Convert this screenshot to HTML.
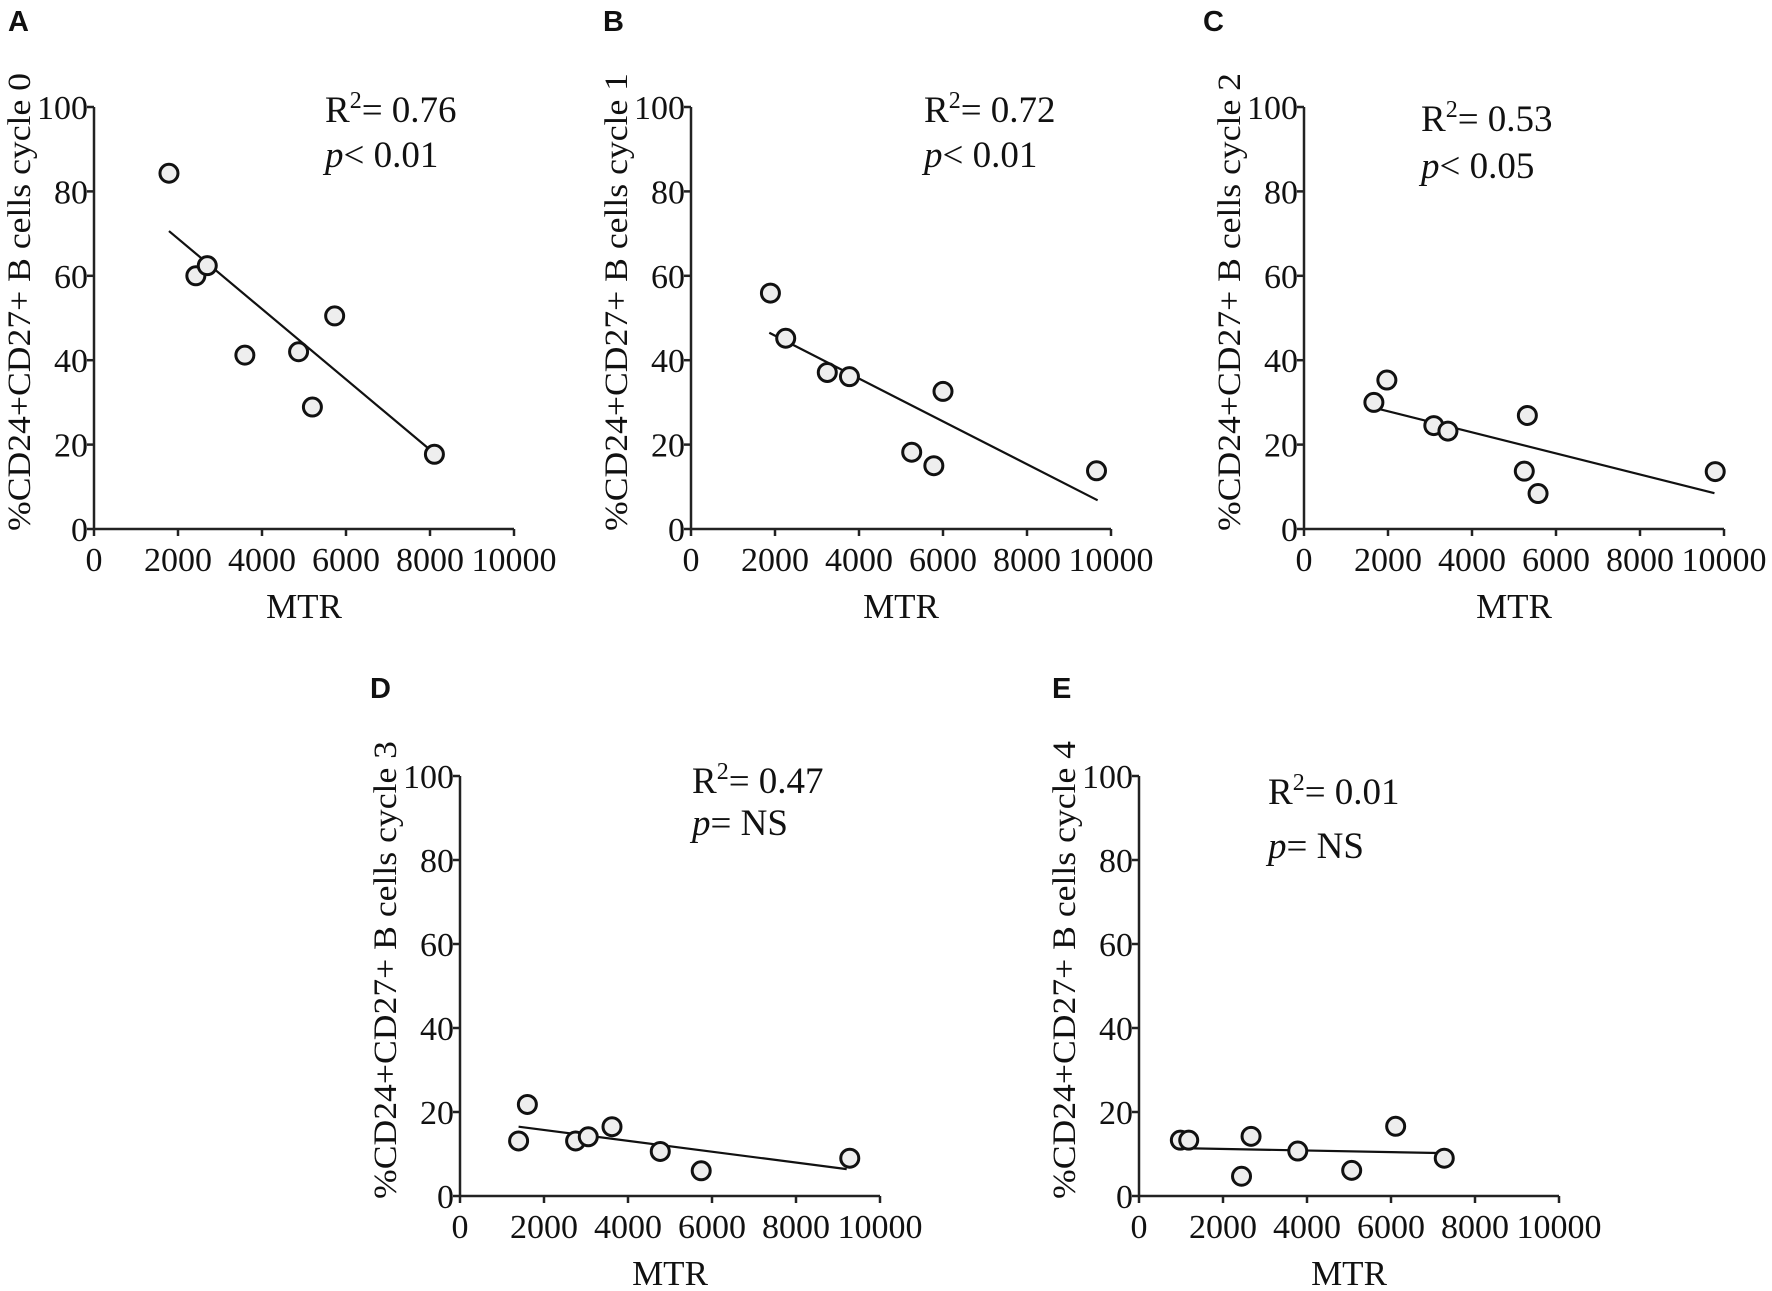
<!DOCTYPE html>
<html><head><meta charset="utf-8"><style>
html,body{margin:0;padding:0;background:#fff;}
svg{display:block;}
text{font-family:"Liberation Serif",serif;fill:#111;}
.lbl{font-family:"Liberation Sans",sans-serif;font-weight:bold;font-size:29px;}
</style></head><body>
<svg id="fig" width="1772" height="1291" viewBox="0 0 1772 1291" xmlns="http://www.w3.org/2000/svg"></svg>
<script>
const xTicks = [0, 2000, 4000, 6000, 8000, 10000];
const yTicks = [0, 20, 40, 60, 80, 100];

const aX = [1785, 2425, 2697, 3592, 4871, 5730, 5200, 8105];
const aY = [84.3, 60.0, 62.4, 41.2, 42.0, 50.5, 28.9, 17.7];
const aFitX = [1785, 7986];
const aFitY = [70.6, 18.9];

const bX = [1891, 2255, 3245, 3773, 6000, 5255, 5782, 9655];
const bY = [55.9, 45.2, 37.1, 36.1, 32.6, 18.2, 15.0, 13.8];
const bFitX = [1864, 9682];
const bFitY = [46.5, 6.8];

const cX = [1664, 1973, 3091, 3427, 5318, 5245, 5573, 9791];
const cY = [30.0, 35.3, 24.5, 23.2, 26.9, 13.7, 8.4, 13.6];
const cFitX = [1636, 9773];
const cFitY = [28.8, 8.5];

const dX = [1395, 1604, 2753, 3054, 3619, 4768, 5743, 9280];
const dY = [13.1, 21.8, 13.1, 14.1, 16.5, 10.6, 6.0, 9.0];
const dFitX = [1395, 9207];
const dFitY = [16.5, 6.4];

const eX = [984, 1184, 2668, 2441, 3780, 5064, 6111, 7268];
const eY = [13.3, 13.3, 14.2, 4.7, 10.7, 6.1, 16.6, 9.0];
const eFitX = [984, 7268];
const eFitY = [11.4, 10.2];

const NS = "http://www.w3.org/2000/svg";
const svg = document.getElementById('fig');
function mk(tag, attrs, parent) {
  const el = document.createElementNS(NS, tag);
  for (const k in attrs) el.setAttribute(k, attrs[k]);
  (parent || svg).appendChild(el);
  return el;
}

const panels = [
  {id:'a', L:'A', lx:8, ly:31, x0:94, top:107, bot:529, xs:aX, ys:aY, fx:aFitX, fy:aFitY, cyc:'0', r2:'0.76', p:'< 0.01', ax:231, ay1:15, ay2:60},
  {id:'b', L:'B', lx:603, ly:31, x0:691, top:107, bot:529, xs:bX, ys:bY, fx:bFitX, fy:bFitY, cyc:'1', r2:'0.72', p:'< 0.01', ax:233, ay1:15, ay2:60},
  {id:'c', L:'C', lx:1203, ly:31, x0:1304, top:107, bot:529, xs:cX, ys:cY, fx:cFitX, fy:cFitY, cyc:'2', r2:'0.53', p:'< 0.05', ax:117, ay1:24, ay2:71},
  {id:'d', L:'D', lx:370, ly:698, x0:460, top:776, bot:1196, xs:dX, ys:dY, fx:dFitX, fy:dFitY, cyc:'3', r2:'0.47', p:'= NS', ax:232, ay1:17, ay2:59},
  {id:'e', L:'E', lx:1052, ly:698, x0:1139, top:776, bot:1196, xs:eX, ys:eY, fx:eFitX, fy:eFitY, cyc:'4', r2:'0.01', p:'= NS', ax:129, ay1:28, ay2:82}
];

panels.forEach(P => {
  const W = 420;
  const sx = v => P.x0 + v / 10000 * W;
  const sy = v => P.bot - v / 100 * (P.bot - P.top);
  const g = mk('g', {});
  
  

  const lab = mk('text', {x:P.lx, y:P.ly, class:'lbl'}, g);
  lab.textContent = P.L;
  
  

  const ya = mk('line', {x1:P.x0, y1:P.top, x2:P.x0, y2:P.bot, stroke:'#222', 'stroke-width':2.5}, g);
  
  
  const xa = mk('line', {x1:P.x0, y1:P.bot, x2:P.x0 + W, y2:P.bot, stroke:'#222', 'stroke-width':2.5}, g);
  
  

  yTicks.forEach(t => {
    mk('line', {x1:P.x0 - 7, y1:sy(t), x2:P.x0, y2:sy(t), stroke:'#222', 'stroke-width':2.5}, g);
    const tl = mk('text', {x:P.x0 - 6, y:sy(t) + 12, 'text-anchor':'end', 'font-size':34}, g);
    tl.textContent = t;
    
    
  });
  xTicks.forEach(t => {
    mk('line', {x1:sx(t), y1:P.bot, x2:sx(t), y2:P.bot + 7, stroke:'#222', 'stroke-width':2.5}, g);
    const tl = mk('text', {x:sx(t), y:P.bot + 42, 'text-anchor':'middle', 'font-size':34}, g);
    tl.textContent = t;
    
    
  });

  const xt = mk('text', {x:P.x0 + W / 2, y:P.bot + 89, 'text-anchor':'middle', 'font-size':35}, g);
  xt.textContent = 'MTR';
  
  

  const cy = (P.top + P.bot) / 2 - 16;
  const ytl = mk('text', {x:0, y:0, 'text-anchor':'middle', 'font-size':33, textLength:458, lengthAdjust:'spacingAndGlyphs', transform:'translate(' + (P.x0 - 64) + ',' + cy + ') rotate(-90)'}, g);
  ytl.textContent = '%CD24+CD27+ B cells cycle ' + P.cyc;
  
  

  const r2 = mk('text', {x:P.x0 + P.ax, y:P.top + P.ay1, 'font-size':37}, g);
  r2.innerHTML = 'R<tspan font-size="24" dy="-14">2</tspan><tspan dy="14">= ' + P.r2 + '</tspan>';
  
  
  const pv = mk('text', {x:P.x0 + P.ax, y:P.top + P.ay2, 'font-size':37}, g);
  pv.innerHTML = '<tspan font-style="italic">p</tspan>' + P.p;
  
  

  const fit = mk('line', {x1:sx(P.fx[0]), y1:sy(P.fy[0]), x2:sx(P.fx[1]), y2:sy(P.fy[1]), stroke:'#111', 'stroke-width':2.2}, g);
  
  

  P.xs.forEach((v, i) => {
    const c = mk('circle', {cx:sx(v), cy:sy(P.ys[i]), r:9, fill:'#eee', stroke:'#111', 'stroke-width':3}, g);
    
    
  });
});
</script>
</body></html>
